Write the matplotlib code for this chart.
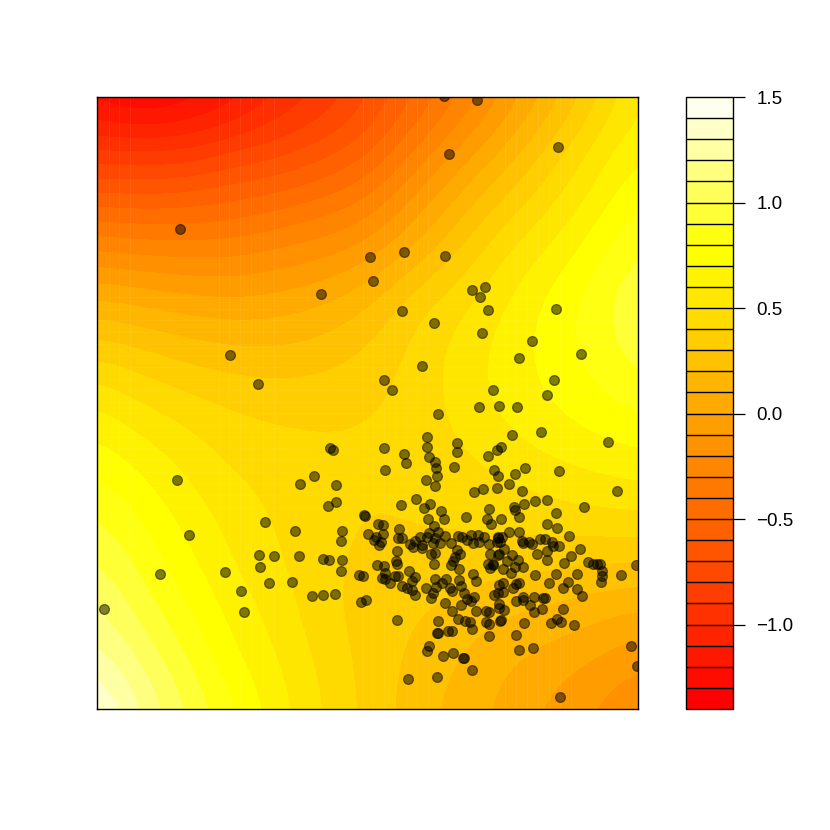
import colorsys
import numpy as np
import matplotlib
matplotlib.use('Agg')
import matplotlib.pyplot as plt
from matplotlib.colors import ListedColormap, BoundaryNorm

plt.rcParams['font.family'] = ['Liberation Sans', 'DejaVu Sans']

# field values, on a coarse grid (rows top to bottom)
grid_x = [97, 142, 187, 232, 277, 322, 368, 413, 458, 503, 548, 593, 638]
grid_y = [97, 148, 199, 250, 301, 352, 403, 454, 505, 556, 607, 658, 709]
field = [
    [-1.25, -1.35, -1.28, -1.18, -1.00, -0.90, -0.72, -0.52, -0.32, -0.10, 0.12, 0.36, 0.60],
    [-0.92, -0.92, -0.91, -0.82, -0.77, -0.67, -0.55, -0.32, -0.10, 0.10, 0.32, 0.53, 0.68],
    [-0.55, -0.57, -0.55, -0.51, -0.46, -0.39, -0.30, -0.09, 0.12, 0.31, 0.47, 0.63, 0.80],
    [-0.20, -0.23, -0.24, -0.24, -0.19, -0.14, -0.06, 0.11, 0.30, 0.49, 0.61, 0.76, 0.91],
    [0.12, 0.08, 0.04, 0.02, 0.04, 0.09, 0.18, 0.36, 0.47, 0.59, 0.73, 0.85, 1.00],
    [0.37, 0.32, 0.26, 0.23, 0.22, 0.25, 0.32, 0.43, 0.54, 0.64, 0.74, 0.84, 0.96],
    [0.60, 0.50, 0.44, 0.39, 0.37, 0.37, 0.39, 0.43, 0.54, 0.63, 0.70, 0.77, 0.84],
    [0.75, 0.65, 0.56, 0.47, 0.44, 0.42, 0.42, 0.44, 0.48, 0.55, 0.61, 0.65, 0.69],
    [0.88, 0.77, 0.64, 0.55, 0.48, 0.45, 0.40, 0.42, 0.43, 0.45, 0.48, 0.51, 0.53],
    [1.00, 0.86, 0.72, 0.59, 0.50, 0.44, 0.36, 0.37, 0.37, 0.36, 0.35, 0.33, 0.33],
    [1.12, 0.95, 0.80, 0.66, 0.55, 0.43, 0.35, 0.32, 0.27, 0.22, 0.19, 0.15, 0.11],
    [1.25, 1.08, 0.90, 0.72, 0.60, 0.47, 0.36, 0.28, 0.20, 0.12, 0.06, 0.00, -0.08],
    [1.45, 1.20, 1.00, 0.82, 0.65, 0.50, 0.37, 0.25, 0.16, 0.07, -0.02, -0.11, -0.20],
]
levels = [-1.4, -1.3, -1.2, -1.1, -1.0, -0.9, -0.8, -0.7, -0.6, -0.5, -0.4, -0.3, -0.2, -0.1, 0.0,
          0.1, 0.2, 0.3, 0.4, 0.5, 0.6, 0.7, 0.8, 0.9, 1.0, 1.1, 1.2, 1.3, 1.4, 1.5]
bar_ticks = [-1.0, -0.5, 0.0, 0.5, 1.0, 1.5]

# faint seams in the filled image
seam_x = [109, 119, 130, 219, 229, 240, 251, 263, 274, 363, 373, 384, 395, 406, 417, 428,
          505, 516, 527, 538, 549, 560, 571]
seam_y = [297, 309, 320, 332, 344, 355, 367, 379, 390, 402, 413, 425, 437, 448, 460, 472, 483, 495, 507]

x_vals = [444, 477, 449, 558, 180, 370, 404, 445, 373, 321, 472, 485, 480, 488, 402, 434, 556, 482, 532, 519,
          230, 581, 422, 258, 384, 392, 554, 547, 493, 479, 499, 517, 438, 541, 608, 512, 104, 160, 177, 189,
          265, 225, 259, 260, 274, 241, 244, 269, 292, 295, 300, 314, 299, 312, 323, 323, 329, 335, 342, 341,
          341, 342, 336, 336, 328, 330, 333, 361, 366, 359, 363, 365,
          427, 427, 457, 457, 488, 497, 384, 404, 406, 385, 429, 435, 436, 437, 426, 435, 454, 494, 498, 474,
          483, 497, 416, 401, 430, 424, 441, 444, 428, 364, 489, 487, 491, 466, 378, 383, 399, 434, 368, 383,
          376, 374, 398, 402, 381, 379, 420, 429, 438, 427, 445, 458, 462, 471, 478, 484, 467, 473, 479, 498,
          497, 410, 415, 413, 422, 422, 433, 435, 440, 451, 489, 397, 457, 460, 431, 435, 455, 453, 490, 498,
          396, 397, 434, 451, 459, 488, 493, 377, 384, 409,
          501, 515, 525, 559, 509, 522, 617, 535, 547, 524, 514, 515, 519, 556, 584, 501, 547, 557, 569, 509,
          519, 502, 498, 500, 522, 523, 529, 532, 540, 545, 552, 553, 559, 547, 537, 580, 571, 547, 564, 504,
          512, 499, 518, 507, 588, 593, 597, 600, 636, 493, 503, 515, 523,
          385, 382, 385, 390, 398, 395, 402, 415, 412, 407, 412, 415, 426, 435, 446, 442, 436, 433, 431, 450,
          452, 459, 461, 473, 476, 464, 474, 467, 471, 445, 461, 452, 476, 486, 489, 494, 498, 499, 397, 438,
          458, 465, 470, 486, 489, 500, 472, 489, 448, 452, 437, 438, 429, 427, 453, 443, 463, 464, 472, 408,
          437, 490,
          511, 535, 556, 577, 602, 602, 601, 621, 549, 568, 563, 577, 582, 519, 516, 513, 503, 503, 534, 523,
          523, 516, 530, 543, 545, 542, 534, 563, 499, 499, 504, 501, 524, 551, 557, 561, 574, 516, 519, 533,
          631, 637, 560]
y_vals = [96, 100, 154, 147, 229, 257, 252, 256, 281, 294, 290, 287, 297, 310, 311, 323, 309, 333, 341, 358,
          355, 354, 366, 384, 380, 390, 380, 395, 390, 407, 406, 407, 414, 432, 442, 435, 609, 574, 480, 535,
          522, 572, 555, 567, 556, 591, 612, 583, 582, 531, 484, 476, 556, 596, 595, 559, 560, 594, 560, 571,
          541, 531, 502, 485, 506, 448, 450, 602, 600, 575, 576, 516,
          437, 447, 443, 452, 456, 450, 448, 454, 463, 470, 457, 462, 468, 476, 480, 486, 467, 470, 476, 492,
          489, 488, 499, 505, 504, 508, 511, 519, 519, 515, 509, 519, 524, 517, 524, 525, 529, 526, 534, 534,
          537, 540, 538, 538, 542, 545, 537, 533, 532, 537, 536, 536, 537, 535, 535, 537, 540, 543, 542, 537,
          542, 544, 541, 547, 545, 548, 543, 538, 543, 543, 544, 551, 550, 554, 554, 553, 557, 561, 554, 555,
          561, 564, 564, 565, 569, 564, 564, 565, 566, 571,
          447, 474, 468, 471, 484, 491, 491, 501, 500, 504, 507, 510, 517, 513, 507, 519, 524, 528, 536, 532,
          532, 537, 538, 542, 541, 543, 542, 544, 539, 539, 542, 546, 546, 551, 554, 549, 556, 560, 563, 549,
          555, 554, 560, 561, 562, 564, 564, 564, 565, 565, 569, 567, 567,
          573, 578, 579, 583, 576, 576, 586, 577, 581, 588, 590, 595, 588, 579, 579, 583, 587, 593, 598, 588,
          591, 580, 586, 574, 581, 593, 597, 599, 601, 603, 605, 611, 611, 611, 612, 595, 593, 585, 620, 621,
          619, 621, 622, 622, 624, 621, 629, 636, 631, 631, 633, 633, 646, 651, 653, 656, 658, 658, 670, 679,
          677, 568,
          573, 575, 574, 574, 571, 576, 582, 575, 583, 582, 588, 589, 596, 583, 584, 588, 583, 592, 597, 597,
          600, 601, 605, 598, 598, 609, 612, 609, 604, 608, 610, 620, 623, 623, 619, 622, 625, 635, 650, 648,
          646, 666, 697]

# R heat.colors(29): rainbow part plus pale yellow tail
n_bands = len(levels) - 1
n_tail = n_bands // 4
n_rain = n_bands - n_tail
colors = [colorsys.hsv_to_rgb(h, 1, 1) for h in np.linspace(0, 1 / 6, n_rain)]
colors += [colorsys.hsv_to_rgb(1 / 6, s, 1)
           for s in np.linspace(1 - 1 / (2 * n_tail), 1 / (2 * n_tail), n_tail)]
cmap = ListedColormap(colors)
norm = BoundaryNorm(levels, n_bands)

W, H = 830.0, 830.0
fig = plt.figure(figsize=(8.3, 8.3), dpi=100)
ax = fig.add_axes([97 / W, 1 - 709 / H, 541 / W, 612 / H])

dx = (grid_x[1] - grid_x[0]) / 2
dy = (grid_y[1] - grid_y[0]) / 2
im = ax.imshow(np.array(field), cmap=cmap, norm=norm, aspect='auto', interpolation='bicubic',
               extent=[grid_x[0] - dx, grid_x[-1] + dx, grid_y[-1] + dy, grid_y[0] - dy])
for sx in seam_x:
    ax.axvline(sx, color='white', alpha=0.07, lw=0.8, zorder=1.5)
for sy in seam_y:
    ax.axhline(sy, color='white', alpha=0.05, lw=0.8, zorder=1.5)
ax.scatter(x_vals, y_vals, s=50, c='black', alpha=0.5, edgecolors='black', linewidths=0.9, zorder=2)
ax.set_xlim(97, 638)
ax.set_ylim(709, 97)
ax.set_xticks([])
ax.set_yticks([])
for s in ax.spines.values():
    s.set_linewidth(1.0)

cax = fig.add_axes([686 / W, 1 - 709 / H, 47 / W, 612 / H])
cb = fig.colorbar(im, cax=cax, ticks=bar_ticks, drawedges=True, spacing='proportional')
cb.minorticks_off()
cb.dividers.set_color('black')
cb.dividers.set_linewidth(1.0)
cb.outline.set_linewidth(1.0)
cb.ax.tick_params(length=8.8, width=0.9, pad=8, labelsize=13.5)
cb.ax.set_yticklabels(['\u22121.0', '\u22120.5', '0.0', '0.5', '1.0', '1.5'])

plt.savefig('out.png', dpi=100)
